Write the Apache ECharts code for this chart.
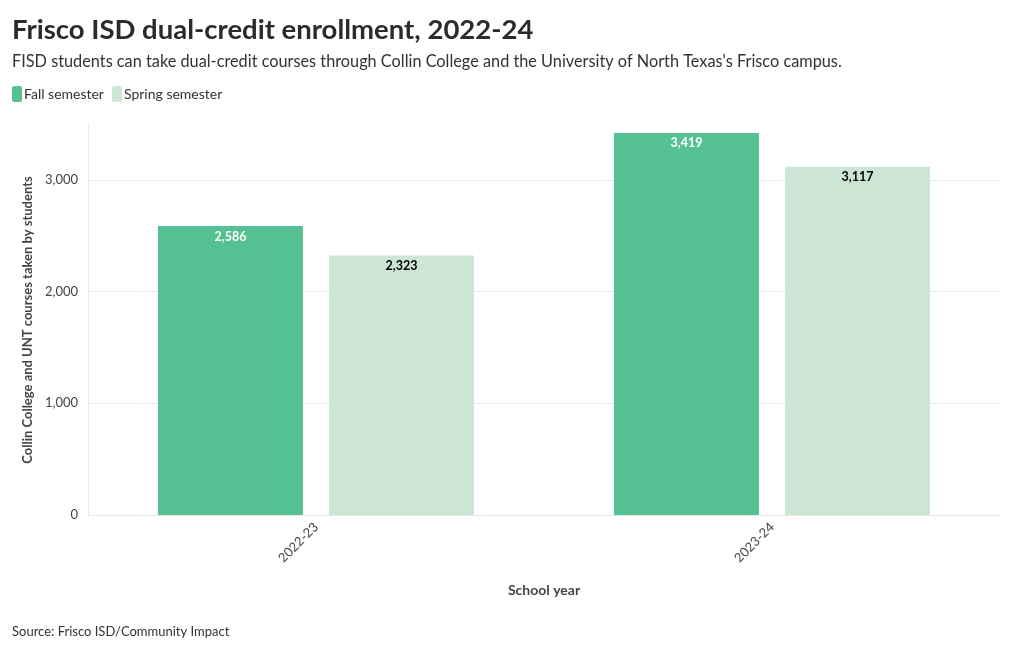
<!DOCTYPE html>
<html><head><meta charset="utf-8">
<script src="https://cdn.jsdelivr.net/npm/echarts@6/dist/echarts.min.js"></script>
<style>html,body{margin:0;padding:0;background:#fff}#c{width:1020px;height:650px}</style>
</head><body><div id="c"></div>
<script>
const categories = ["2022-23", "2023-24"];
const fallValues = [2586, 3419];
const springValues = [2323, 3117];
const seriesNames = ["Fall semester", "Spring semester"];
const yTicks = [0, 1000, 2000, 3000];

const FONT = "Lato";
const chart = echarts.init(document.getElementById('c'));
const fmt = v => v.toLocaleString('en-US');
chart.setOption({
  animation: false,
  textStyle: { fontFamily: FONT },
  color: ['#55c091', '#cce5d5'],
  title: [
    { text: 'Frisco ISD dual-credit enrollment, 2022-24', left: 12, top: 16, padding: 0,
      textStyle: { fontFamily: FONT, fontSize: 27.5, fontWeight: 'bold', color: '#2b2b2b' } },
    { text: "FISD students can take dual-credit courses through Collin College and the University of North Texas's Frisco campus.",
      left: 12, top: 54, padding: 0, textStyle: { fontFamily: FONT, fontSize: 16.3, fontWeight: 'normal', color: '#333' } },
    { text: 'Source: Frisco ISD/Community Impact', left: 12, top: 625, padding: 0,
      textStyle: { fontFamily: FONT, fontSize: 13, fontWeight: 'normal', color: '#333' } }
  ],
  legend: {
    left: 12, top: 86, padding: 0, itemWidth: 10, itemHeight: 16, itemGap: 8, icon: 'roundRect',
    textStyle: { fontFamily: FONT, fontSize: 14, color: '#333', padding: [0, 0, 0, -3] },
    data: seriesNames
  },
  grid: { left: 88, right: 20, top: 125, bottom: 135, containLabel: false },
  xAxis: {
    type: 'category', data: categories, boundaryGap: true,
    name: 'School year', nameLocation: 'middle', nameGap: 68,
    nameTextStyle: { fontFamily: FONT, fontSize: 14, fontWeight: 'bold', color: '#444' },
    axisLine: { show: true, lineStyle: { color: '#e8e8e8' } },
    axisTick: { show: false },
    axisLabel: { rotate: 45, fontSize: 13, color: '#444', margin: 10 }
  },
  yAxis: {
    type: 'value', min: 0, max: 3490, interval: 1000,
    name: 'Collin College and UNT courses taken by students', nameLocation: 'middle', nameGap: 53,
    nameTextStyle: { fontFamily: FONT, fontSize: 13, fontWeight: 'bold', color: '#444' },
    axisLine: { show: true, lineStyle: { color: '#e8e8e8' } },
    axisTick: { show: false },
    axisLabel: { fontSize: 13, color: '#444', margin: 10, showMaxLabel: false,
      formatter: v => yTicks.includes(v) ? fmt(v) : '' },
    splitLine: { show: true, showMaxLine: false, lineStyle: { color: '#ebebeb' } }
  },
  series: [
    { name: seriesNames[0], type: 'bar', data: fallValues, barWidth: 145, barGap: '18%',
      label: { show: true, position: 'insideTop', distance: 4, formatter: p => fmt(p.value),
        color: '#fff', fontWeight: 'bold', fontSize: 12.5, fontFamily: FONT } },
    { name: seriesNames[1], type: 'bar', data: springValues, barWidth: 145, barGap: '18%',
      label: { show: true, position: 'insideTop', distance: 4, formatter: p => fmt(p.value),
        color: '#000', fontWeight: 'bold', fontSize: 12.5, fontFamily: FONT } }
  ]
});
</script></body></html>
